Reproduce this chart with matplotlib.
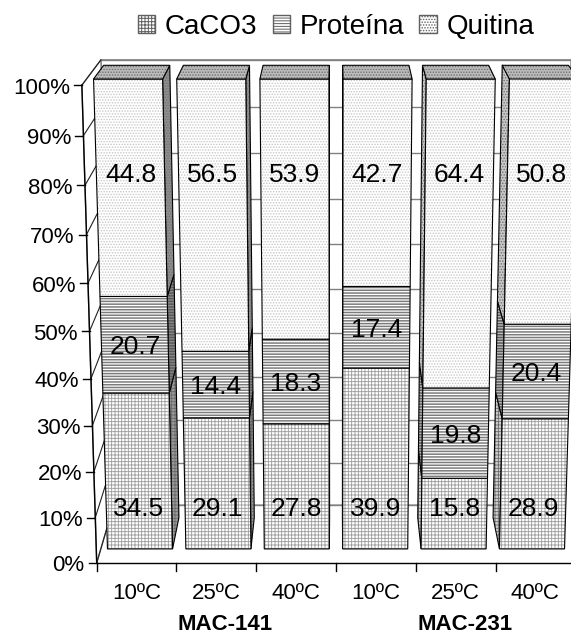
import numpy as np
import matplotlib.pyplot as plt
from matplotlib.patches import Polygon, Patch

plt.rcParams['font.family'] = ['Liberation Sans', 'DejaVu Sans']
plt.rcParams['hatch.linewidth'] = 0.7

# composition (%) of each sample
groups = ["MAC-141", "MAC-231"]
temps = ["10ºC", "25ºC", "40ºC", "10ºC", "25ºC", "40ºC"]
series = ["CaCO3", "Proteína", "Quitina"]
caco3 = [34.5, 29.1, 27.8, 39.9, 15.8, 28.9]
proteina = [20.7, 14.4, 18.3, 17.4, 19.8, 20.4]
quitina = [44.8, 56.5, 53.9, 42.7, 64.4, 50.8]

# fill styles per series
hatches = ["+++++", "------", "......"]
hatch_lw = [0.6, 1.1, 0.7]
front_hc = ["#9c9c9c", "#7c7c7c", "#c8c8c8"]
right_fc = ["#9a9a9a", "#8a8a8a", "#8e8e8e"]
left_fc = ["#d0d0d0", "#c0c0c0", "#c8c8c8"]
side_hc = ["#6a6a6a", "#5a5a5a", "#707070"]
top_fc = "#bcbcbc"

n = len(temps)

# simple perspective camera, 15 deg elevation
elev = np.radians(15)
focal = 2130.0
cam_dist = 440.0
cx, cy = 336.0, 318.4
cat_w = 16.6
depth = 35.0
bar_front, bar_back = 8.0, 27.0
bar_w = 0.83
cam_y = 10 - cam_dist * np.cos(elev)
cam_z = 50 + cam_dist * np.sin(elev)


def proj(c, d, z):
    """(category position, depth, percent) -> pixel coords"""
    X = (np.asarray(c, float) - n / 2) * cat_w
    py = np.asarray(d, float) - cam_y
    pz = np.asarray(z, float) - cam_z
    zc = py * np.cos(elev) - pz * np.sin(elev)
    yc = py * np.sin(elev) + pz * np.cos(elev)
    return cx + focal * X / zc, cy - focal * yc / zc


fig = plt.figure(figsize=(5.71, 6.35), dpi=100)
ax = fig.add_axes([0, 0, 1, 1])
ax.set_xlim(0, 571)
ax.set_ylim(635, 0)
ax.axis('off')


def face(corners, fc, hatch=None, hc='white', ec='black', lw=0.8, z=3, hlw=0.7):
    xy = np.array([proj(*p) for p in corners])
    with plt.rc_context({'hatch.linewidth': hlw}):
        ax.add_patch(Polygon(xy, closed=True, facecolor=fc, edgecolor=hc,
                             hatch=hatch, lw=0, zorder=z))
    ax.add_patch(Polygon(xy, closed=True, fill=False, edgecolor=ec, lw=lw,
                         zorder=z))


# walls
face([(0, depth, 0), (n, depth, 0), (n, depth, 100), (0, depth, 100)],
     'white', ec='#808080', lw=1.0, z=0.5)
face([(0, 0, 0), (0, depth, 0), (0, depth, 100), (0, 0, 100)],
     'white', ec='#808080', lw=1.0, z=0.5)
for z in range(0, 101, 10):
    ax.plot(*proj([0, n], [depth, depth], [z, z]), color='#808080', lw=1.0,
            zorder=1)
    ax.plot(*proj([0, 0], [0, depth], [z, z]), color='#202020', lw=0.8,
            zorder=1)

# axes lines and ticks
ax.plot(*proj([0, 0], [0, 0], [0, 100]), color='black', lw=1.0, zorder=1)
ax.plot(*proj([0, n], [0, 0], [0, 0]), color='black', lw=1.0, zorder=1)
for z in range(0, 101, 10):
    px, py_ = proj(0, 0, z)
    ax.plot([px - 8, px], [py_, py_], color='black', lw=1.0)
    ax.text(px - 12, py_ + 8.5, f"{z}%", ha='right', va='baseline', fontsize=16)
for k in range(n + 1):
    px, py_ = proj(k, 0, 0)
    ax.plot([px, px], [py_, py_ + 8], color='black', lw=1.0)
for i, t in enumerate(temps):
    px, py_ = proj(i + 0.5, 0, 0)
    ax.text(px, py_ + 36, t, ha='center', va='baseline', fontsize=16)
for g, name in enumerate(groups):
    px, py_ = proj(3 * g + 1.5, 0, 0)
    ax.text(px + 9, py_ + 67, name, ha='center', va='baseline',
            fontsize=16, fontweight='bold')

# stacked bars
stack = np.array([caco3, proteina, quitina])
bottoms = np.vstack([np.zeros(n), np.cumsum(stack, axis=0)[:-1]])
order = sorted(range(n), key=lambda i: -abs(i + 0.5 - n / 2))
bf, bb = bar_front, bar_back
for i in order:
    x0 = i + (1 - bar_w) / 2
    x1 = x0 + bar_w
    for s in range(len(series)):
        z0 = bottoms[s, i]
        z1 = z0 + stack[s, i]
        if x1 < n / 2:
            face([(x1, bf, z0), (x1, bb, z0), (x1, bb, z1), (x1, bf, z1)],
                 right_fc[s], hatches[s], side_hc[s], hlw=hatch_lw[s])
        elif x0 > n / 2:
            face([(x0, bf, z0), (x0, bb, z0), (x0, bb, z1), (x0, bf, z1)],
                 left_fc[s], hatches[s], side_hc[s], hlw=hatch_lw[s])
        face([(x0, bf, z0), (x1, bf, z0), (x1, bf, z1), (x0, bf, z1)],
             'white', hatches[s], front_hc[s], hlw=hatch_lw[s])
    face([(x0, bf, 100), (x1, bf, 100), (x1, bb, 100), (x0, bb, 100)],
         top_fc, hatches[2], side_hc[2], hlw=hatch_lw[2])

# value labels
label_z = [np.full(n, 9.5), bottoms[1] + stack[1] / 2, np.full(n, 81.0)]
for s in range(len(series)):
    for i in range(n):
        px, py_ = proj(i + 0.5, bf, label_z[s][i])
        ax.text(px, py_ + 9.4, f"{stack[s, i]:.1f}", ha='center',
                va='baseline', fontsize=19, zorder=5)

handles = [Patch(facecolor='white', edgecolor='#606060', hatch=h) for h in hatches]
fig.legend(handles, series, loc='center', bbox_to_anchor=(336 / 571, 1 - 27 / 635),
           ncol=3, frameon=False, fontsize=20, handlelength=0.62,
           handleheight=0.62, handletextpad=0.35, columnspacing=0.55,
           borderpad=0)

fig.savefig('out.png', dpi=100)
